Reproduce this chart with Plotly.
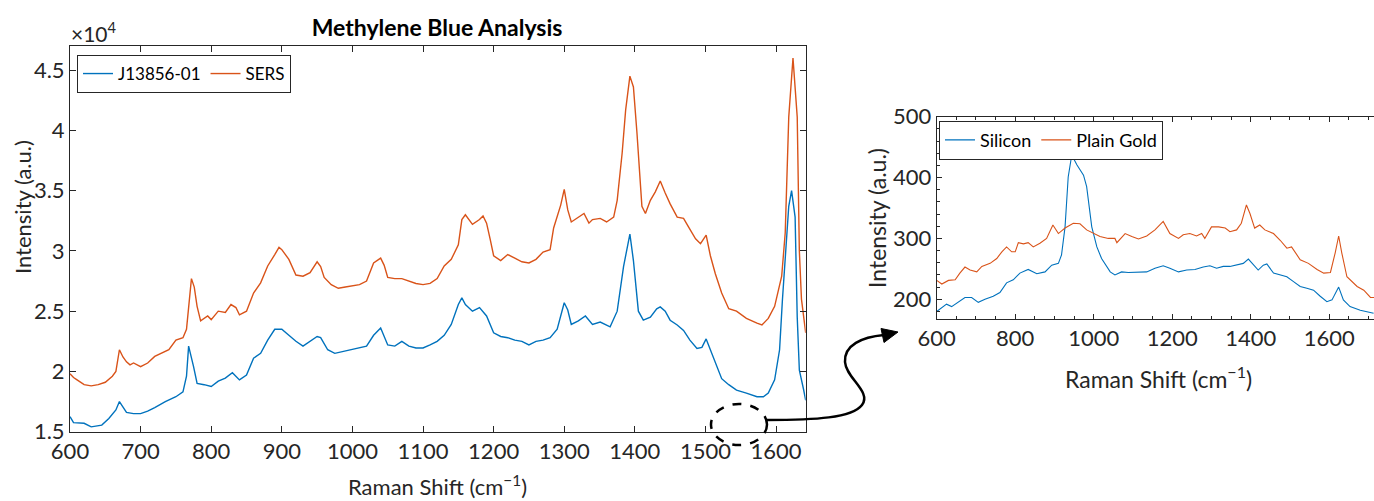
import plotly.graph_objects as go

# ---------------- data ----------------
sers_x = [600, 605, 610, 620, 630, 640, 650, 660, 665, 670, 675, 680, 685, 690, 700, 710, 720, 730, 740, 750,
          760, 765, 768, 772, 776, 780, 785, 790, 795, 800, 810, 820, 828, 835, 840, 850, 860, 870, 880, 890,
          896, 900, 910, 920, 930, 940, 950, 955, 960, 970, 980, 990, 1000, 1010, 1020, 1030, 1040, 1045, 1050,
          1060, 1070, 1080, 1090, 1100, 1110, 1120, 1130, 1140, 1150, 1155, 1160, 1170, 1180, 1185, 1190, 1195,
          1200, 1210, 1220, 1230, 1240, 1250, 1260, 1270, 1280, 1285, 1295, 1300, 1305, 1310, 1320, 1328, 1335,
          1340, 1351, 1360, 1370, 1375, 1382, 1387, 1393, 1398, 1403, 1410, 1415, 1422, 1429, 1436, 1443, 1450,
          1460, 1469, 1476, 1486, 1493, 1501, 1507, 1514, 1523, 1533, 1544, 1558, 1573, 1580, 1589, 1598, 1608,
          1613, 1618, 1624, 1630, 1633, 1636, 1642]
sers_y = [19800, 19500, 19300, 18900, 18800, 18900, 19100, 19600, 20000, 21800, 21200, 20800, 20550, 20700,
          20400, 20700, 21250, 21500, 21800, 22600, 22800, 23500, 25500, 27700, 27000, 25400, 24200, 24400,
          24600, 24300, 25000, 24900, 25550, 25300, 24700, 25000, 26500, 27350, 28750, 29700, 30300, 30100,
          29300, 28000, 27900, 28200, 29100, 28700, 27800, 27200, 26900, 27000, 27100, 27200, 27500, 29000,
          29400, 28800, 27800, 27700, 27700, 27500, 27300, 27200, 27300, 27700, 28750, 29300, 30500, 32600,
          33000, 32200, 32600, 32900, 32300, 31000, 29600, 29200, 29700, 29400, 29100, 29000, 29300, 29900,
          30100, 31900, 33800, 35100, 33400, 32400, 32800, 33100, 32300, 32600, 32700, 32400, 32800, 34200,
          38100, 41700, 44500, 43600, 39800, 33700, 33100, 34200, 34900, 35800, 34800, 33900, 32800, 32700,
          32000, 31000, 30600, 31300, 29600, 28100, 26500, 25200, 25000, 24400, 24000, 23850, 24400, 25400,
          27900, 31500, 41100, 46000, 41100, 30000, 26000, 23200]

ref_x = [600, 605, 620, 630, 645, 655, 665, 670, 680, 690, 700, 710, 720, 735, 750, 760, 765, 768, 775, 780,
         790, 800, 810, 820, 830, 840, 850, 860, 870, 880, 890, 900, 910, 920, 930, 940, 950, 955, 965, 975,
         990, 1000, 1010, 1020, 1030, 1040, 1050, 1060, 1070, 1080, 1090, 1100, 1110, 1120, 1130, 1140, 1150,
         1155, 1160, 1170, 1180, 1190, 1200, 1210, 1220, 1230, 1240, 1250, 1260, 1270, 1280, 1290, 1300, 1305,
         1310, 1320, 1330, 1340, 1351, 1365, 1375, 1384, 1393, 1398, 1405, 1412, 1422, 1431, 1436, 1443, 1450,
         1460, 1469, 1478, 1488, 1495, 1501, 1507, 1514, 1523, 1533, 1544, 1558, 1573, 1582, 1589, 1598, 1605,
         1609, 1614, 1618, 1622, 1627, 1630, 1633, 1639, 1642]
ref_y = [16250, 15750, 15700, 15400, 15550, 16100, 16800, 17500, 16600, 16500, 16500, 16700, 17000, 17500,
         17900, 18300, 19600, 22100, 20400, 19000, 18900, 18750, 19200, 19450, 19900, 19300, 19700, 21100,
         21500, 22600, 23500, 23500, 23000, 22500, 22100, 22500, 22900, 22800, 21800, 21500, 21700, 21800,
         21950, 22100, 23000, 23600, 22200, 22100, 22500, 22100, 21950, 21950, 22200, 22500, 23000, 23900,
         25550, 26100, 25550, 25000, 25300, 24600, 23200, 22900, 22800, 22600, 22500, 22200, 22500, 22600,
         22800, 23500, 25700, 25100, 23900, 24200, 24600, 23900, 24100, 23700, 25000, 28700, 31400, 29200,
         25000, 24250, 24500, 25200, 25350, 25000, 24250, 23850, 23400, 22600, 21900, 22000, 22700, 21800,
         20700, 19400, 18900, 18450, 18200, 17900, 17900, 18200, 19300, 21800, 25900, 30000, 33700, 35000,
         32800, 24500, 20100, 18500, 17600]

si_x = [600, 613, 625, 638, 655, 672, 689, 706, 723, 744, 761, 778, 795, 812, 833, 855, 876, 893, 910, 918,
        927, 935, 944, 957, 974, 982, 995, 1008, 1020, 1042, 1054, 1071, 1088, 1110, 1135, 1156, 1177, 1194,
        1216, 1237, 1258, 1279, 1296, 1313, 1330, 1347, 1364, 1381, 1394, 1407, 1419, 1432, 1441, 1458, 1475,
        1492, 1509, 1526, 1543, 1560, 1577, 1594, 1607, 1624, 1636, 1653, 1679, 1696, 1713]
si_y = [180, 187, 192, 188, 196, 203, 203, 195, 200, 205, 211, 227, 232, 243, 249, 242, 245, 256, 259, 273,
        319, 401, 437, 421, 404, 385, 319, 286, 267, 245, 240, 245, 244, 245, 245, 251, 255, 251, 245, 248,
        249, 253, 255, 251, 254, 254, 256, 259, 266, 256, 248, 256, 258, 243, 240, 237, 229, 221, 218, 215,
        205, 196, 199, 220, 199, 188, 182, 180, 177]

au_x = [600, 613, 630, 647, 659, 672, 685, 702, 715, 736, 753, 766, 778, 791, 800, 808, 821, 833, 846, 863,
        880, 896, 910, 927, 948, 965, 982, 999, 1016, 1037, 1054, 1059, 1080, 1097, 1114, 1135, 1156, 1177,
        1194, 1216, 1228, 1245, 1262, 1275, 1283, 1300, 1318, 1335, 1347, 1364, 1376, 1389, 1398, 1410, 1423,
        1436, 1458, 1475, 1492, 1504, 1526, 1547, 1569, 1586, 1603, 1615, 1624, 1632, 1645, 1671, 1688, 1705,
        1715]
au_y = [231, 225, 231, 232, 243, 253, 248, 245, 254, 259, 267, 278, 286, 278, 278, 293, 291, 293, 286, 292,
        300, 322, 308, 317, 325, 324, 314, 308, 303, 300, 300, 293, 308, 303, 299, 304, 314, 328, 308, 300,
        306, 308, 304, 308, 300, 319, 319, 317, 311, 314, 325, 355, 341, 317, 322, 314, 308, 297, 284, 286,
        265, 259, 249, 243, 244, 276, 304, 276, 237, 221, 215, 203, 203]

main_ticks = [600, 700, 800, 900, 1000, 1100, 1200, 1300, 1400, 1500, 1600]
main_yticks = [15000, 20000, 25000, 30000, 35000, 40000, 45000]
main_yticktext = ["1.5", "2", "2.5", "3", "3.5", "4", "4.5"]
inset_ticks = [600, 800, 1000, 1200, 1400, 1600]
inset_yticks = [200, 300, 400, 500]

# ---------------- styling / layout ----------------
W, H = 1374, 501
BLUE = "#0072BD"
ORANGE = "#D95319"
AX = "#262626"
FONT = "Lato"


def px(x):
    return x / W


def py(y):
    return 1 - y / H


fig = go.Figure()
fig.add_trace(go.Scatter(x=ref_x, y=ref_y, mode="lines", name="J13856-01",
                         line=dict(color=BLUE, width=1.4), xaxis="x", yaxis="y", legend="legend"))
fig.add_trace(go.Scatter(x=sers_x, y=sers_y, mode="lines", name="SERS",
                         line=dict(color=ORANGE, width=1.4), xaxis="x", yaxis="y", legend="legend"))
fig.add_trace(go.Scatter(x=si_x, y=si_y, mode="lines", name="Silicon",
                         line=dict(color=BLUE, width=1.1), xaxis="x2", yaxis="y2", legend="legend2"))
fig.add_trace(go.Scatter(x=au_x, y=au_y, mode="lines", name="Plain Gold",
                         line=dict(color=ORANGE, width=1.1), xaxis="x2", yaxis="y2", legend="legend2"))

axis_common = dict(showline=True, linecolor=AX, linewidth=1, ticks="inside", tickcolor=AX,
                   showgrid=False, zeroline=False, automargin=False,
                   tickfont=dict(family=FONT, size=22, color=AX))

fig.update_layout(
    template="none",
    width=W, height=H,
    autosize=False,
    margin=dict(l=0, r=0, t=0, b=0, pad=0),
    paper_bgcolor="white", plot_bgcolor="white",
    font=dict(family=FONT, color=AX),
    title=dict(text="<b>Methylene Blue Analysis</b>", x=px(437), y=py(28), xanchor="center", yanchor="middle",
               xref="paper", yref="container", automargin=False,
               font=dict(family=FONT, size=23, color="black")),
    xaxis=dict(domain=[px(70), px(805.7)], range=[600, 1642], tickvals=main_ticks, ticklen=6,
               mirror="ticks", anchor="y", **axis_common),
    yaxis=dict(domain=[py(431.7), py(46)], range=[15000, 47000], tickvals=main_yticks,
               ticktext=main_yticktext, ticklen=6, mirror="ticks", anchor="x", **axis_common),
    xaxis2=dict(domain=[px(936.7), 1.0], range=[600, 1714], tickvals=inset_ticks, ticklen=5,
                minor=dict(dtick=50, ticklen=3, ticks="inside", tickcolor=AX),
                mirror="ticks", anchor="y2", **axis_common),
    yaxis2=dict(domain=[py(319), py(116.7)], range=[167.6, 500], tickvals=inset_yticks, ticklen=5,
                minor=dict(dtick=20, ticklen=3, ticks="inside", tickcolor=AX),
                mirror=False, anchor="x2", **axis_common),
    legend=dict(x=px(77), y=py(55), xanchor="left", yanchor="top", orientation="h",
                bgcolor="white", bordercolor=AX, borderwidth=1,
                font=dict(family=FONT, size=17, color="black"), itemwidth=30),
    legend2=dict(x=px(939), y=py(120.7), xanchor="left", yanchor="top", orientation="h",
                 bgcolor="white", bordercolor=AX, borderwidth=1,
                 font=dict(family=FONT, size=18, color="black"), itemwidth=30),
    showlegend=True,
)

# axis titles and exponent label
ann = [
    dict(text="Raman Shift (cm<sup>−1</sup>)", x=px(437), y=py(485), xref="paper", yref="paper",
         showarrow=False, xanchor="center", yanchor="middle", font=dict(family=FONT, size=22, color=AX)),
    dict(text="Intensity (a.u.)", x=px(22), y=py(207), xref="paper", yref="paper", textangle=-90,
         showarrow=False, xanchor="center", yanchor="middle", font=dict(family=FONT, size=22, color=AX)),
    dict(text="×10<sup>4</sup>", x=px(69), y=py(32), xref="paper", yref="paper",
         showarrow=False, xanchor="left", yanchor="middle", font=dict(family=FONT, size=21, color=AX)),
    dict(text="Raman Shift (cm<sup>−1</sup>)", x=px(1158), y=py(377), xref="paper", yref="paper",
         showarrow=False, xanchor="center", yanchor="middle", font=dict(family=FONT, size=23, color=AX)),
    dict(text="Intensity (a.u.)", x=px(877), y=py(218), xref="paper", yref="paper", textangle=-90,
         showarrow=False, xanchor="center", yanchor="middle", font=dict(family=FONT, size=23, color=AX)),
]
fig.update_layout(annotations=ann)

# dashed ellipse highlighting the region and the curved arrow pointing to the inset
arrow_path = ("M {a},{b} C {c},{d} {e},{f} {g},{h} C {i},{j} {k},{l} {m},{n} C {o},{p} {q},{r} {s},{t}").format(
    a=px(767), b=py(420), c=px(815), d=py(420), e=px(852), f=py(418), g=px(862), h=py(405),
    i=px(872), j=py(392), k=px(846), l=py(378), m=px(845), n=py(362),
    o=px(844), p=py(345), q=px(862), r=py(337), s=px(884), t=py(335))
head_path = "M {a},{b} L {c},{d} L {e},{f} Z".format(
    a=px(898), b=py(332), c=px(881), d=py(328.5), e=px(884), f=py(342.5))

fig.update_layout(shapes=[
    dict(type="circle", xref="paper", yref="paper", x0=px(711), x1=px(767), y0=py(445), y1=py(404),
         line=dict(color="black", width=2.5, dash="dash")),
    dict(type="path", xref="paper", yref="paper", path=arrow_path, line=dict(color="black", width=2.5)),
    dict(type="path", xref="paper", yref="paper", path=head_path, fillcolor="black",
         line=dict(color="black", width=1)),
])

fig.write_html("out.html", config={"displayModeBar": False},
               post_script="document.body.style.margin='0';document.body.style.overflow='hidden';")
